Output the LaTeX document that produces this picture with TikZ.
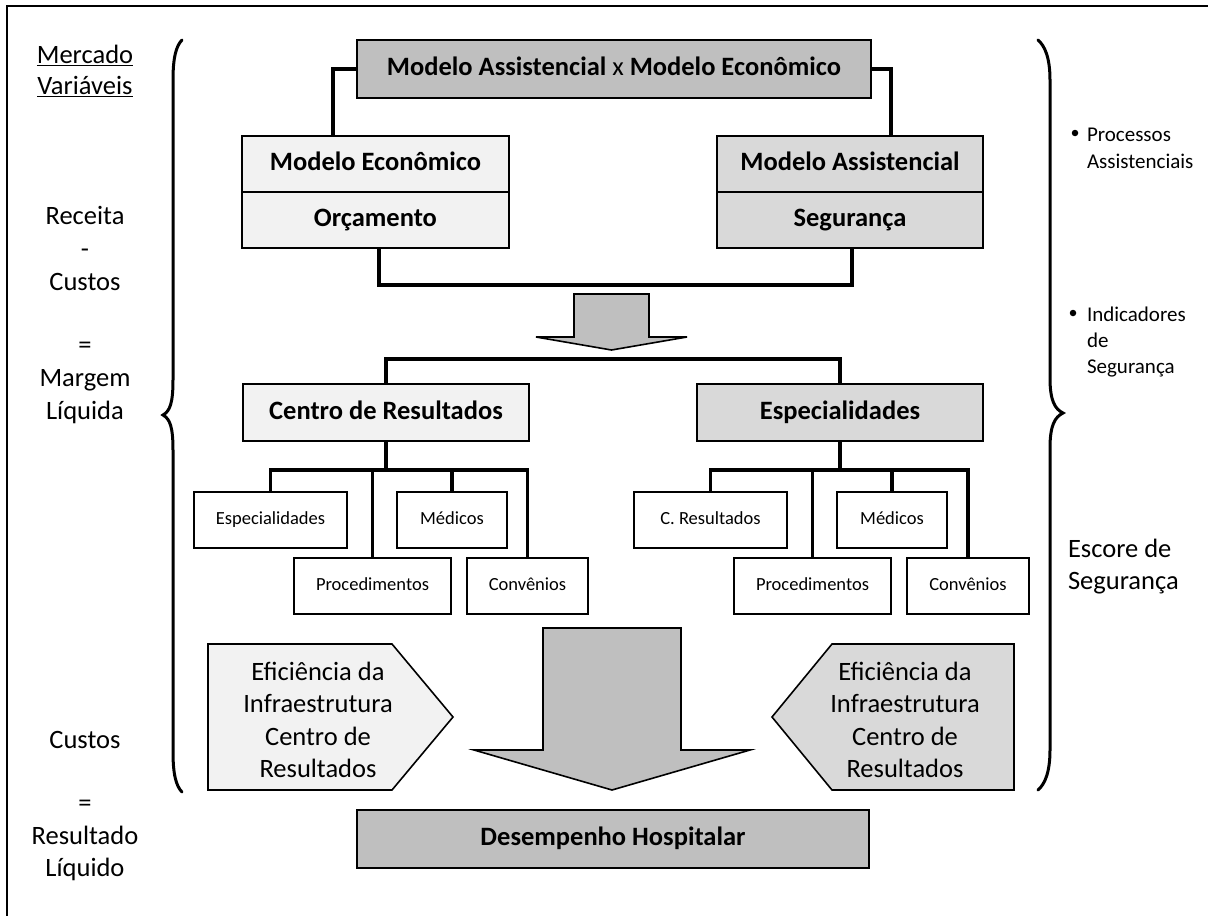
\documentclass[tikz,border=0pt]{standalone}
\usepackage{fontspec}
\setmainfont{Carlito}
\definecolor{gdark}{HTML}{BFBFBF}
\definecolor{gmid}{HTML}{D9D9D9}
\definecolor{glight}{HTML}{F2F2F2}
\begin{document}
\begin{tikzpicture}[x=1pt,y=-1pt,
  every node/.style={inner sep=0pt, outer sep=0pt},
  big/.style={font=\fontsize{26.5}{32.4}\selectfont},
  small/.style={font=\fontsize{18.5}{24}\selectfont},
  side/.style={font=\fontsize{21}{26.5}\selectfont},
  box/.style={draw=black, line width=1.8pt, text height=17pt, text depth=4pt},
  leaf/.style={box, small, minimum height=56pt, text height=12pt, text depth=3pt},
  conn/.style={line width=3.5pt},
  brace/.style={line width=3pt, line cap=round},
  blockarrow/.style={draw=black, line width=1.6pt, fill=gdark, line join=miter},
  pent/.style={draw=black, line width=1.6pt},
  lab/.style={big, anchor=base},
  slab/.style={side, anchor=base west},
  dot/.style={circle, fill=black, minimum size=6.5pt}
]
\useasboundingbox (0,0) rectangle (1208,916);

% outer frame (left and top edges)
\draw[line width=2pt] (7,916) -- (7,6) -- (1208,6);

% ---- models ----
\node[box, big, fill=gdark, minimum width=514pt, minimum height=58pt] (top) at (614,69)
  {\textbf{Modelo Assistencial} x \textbf{Modelo Econômico}};
\node[box, big, fill=glight, minimum width=267pt, minimum height=56pt] (me1) at (375.5,164) {\textbf{Modelo Econômico}};
\node[box, big, fill=glight, minimum width=267pt, minimum height=56pt] (me2) at (375.5,220) {\textbf{Orçamento}};
\node[box, big, fill=gmid, minimum width=266pt, minimum height=56pt] (ma1) at (850,164) {\textbf{Modelo Assistencial}};
\node[box, big, fill=gmid, minimum width=266pt, minimum height=56pt] (ma2) at (850,220) {\textbf{Segurança}};

\draw[conn] (top.west) -| ([xshift=-42.5pt]me1.north);
\draw[conn] (top.east) -| ([xshift=41pt]ma1.north);
\draw[conn] ([xshift=3.5pt]me2.south) -- ++(0,37) -| ([xshift=2pt]ma2.south);

% small block arrow
\draw[blockarrow] (574,294) -- (649,294) -- (649,337) -- (687,337) -- (611.5,350)
  -- (536,337) -- (574,337) -- cycle;

% ---- second level ----
\node[box, big, fill=glight, minimum width=286pt, minimum height=57pt] (cr) at (386,412.5) {\textbf{Centro de Resultados}};
\node[box, big, fill=gmid, minimum width=286pt, minimum height=57pt] (es) at (840,412.5) {\textbf{Especialidades}};
\draw[conn] (cr.north) -- ++(0,-25) -| (es.north);

% children of Centro de Resultados
\node[leaf, minimum width=153pt] (ce) at (270.5,520) {Especialidades};
\node[leaf, minimum width=110pt] (cm) at (452,520) {Médicos};
\node[leaf, minimum width=157pt] (cp) at (372.5,586) {Procedimentos};
\node[leaf, minimum width=121pt] (cv) at (527.5,586) {Convênios};
\draw[conn] (cr.south) -- ++(0,29);
\draw[conn] (ce.north) -- ++(0,-22) -| (cv.north);
\draw[conn] (cm.north) -- ++(0,-22);
\draw[conn] (cp.north) -- ++(0,-88);

% children of Especialidades
\node[leaf, minimum width=153pt] (rc) at (710.5,520) {C. Resultados};
\node[leaf, minimum width=110pt] (rm) at (892,520) {Médicos};
\node[leaf, minimum width=157pt] (rp) at (812.5,586) {Procedimentos};
\node[leaf, minimum width=122pt] (rv) at (968,586) {Convênios};
\draw[conn] (es.south) -- ++(0,29);
\draw[conn] (rc.north) -- ++(0,-22) -| (rv.north);
\draw[conn] (rm.north) -- ++(0,-22);
\draw[conn] (rp.north) -- ++(0,-88);

% ---- bottom ----
\draw[blockarrow] (543,628) -- (681,628) -- (681,750) -- (750,750) -- (612,790)
  -- (474,750) -- (543,750) -- cycle;
\draw[pent, fill=glight] (208,644) -- (392,644) -- (453,717) -- (392,790) -- (208,790) -- cycle;
\node[big, align=center] (pl) at (318,720) {Eficiência da\\Infraestrutura\\Centro de\\Resultados};
\draw[pent, fill=gmid] (772,717) -- (832,644) -- (1014,644) -- (1014,790) -- (832,790) -- cycle;
\node[big, align=center] (pr) at (905,720) {Eficiência da\\Infraestrutura\\Centro de\\Resultados};

\node[box, big, fill=gdark, minimum width=512pt, minimum height=58pt] (dh) at (613,839) {\textbf{Desempenho Hospitalar}};

% ---- braces ----
\draw[brace] (182,40) .. controls (176,46) and (173,58) .. (173,80) -- (173,380)
  .. controls (173,403) and (170,411) .. (163,415)
  .. controls (170,419) and (173,427) .. (173,450) -- (173,752)
  .. controls (173,774) and (176,786) .. (182,792);
\draw[brace] (1038,40) .. controls (1045,46) and (1050,58) .. (1050,80) -- (1050,378)
  .. controls (1050,401) and (1055,409) .. (1063,413)
  .. controls (1055,417) and (1050,425) .. (1050,448) -- (1050,750)
  .. controls (1050,772) and (1045,784) .. (1038,790);

% ---- left column ----
\node[lab] (l1) at (85,63.5) {\underline{Mercado}};
\node[lab] (l2) at (85,94.5) {\underline{Variáveis}};
\node[lab] (l3) at (85,224.5) {Receita};
\node[lab] (l4) at (85,257.5) {-};
\node[lab] (l5) at (85,290.5) {Custos};
\node[lab] (l6) at (85,353.5) {=};
\node[lab] (l7) at (85,386.5) {Margem};
\node[lab] (l8) at (85,419.5) {Líquida};
\node[lab] (l9) at (85,748.5) {Custos};
\node[lab] (l10) at (85,811.5) {=};
\node[lab] (l11) at (85,844.5) {Resultado};
\node[lab] (l12) at (85,876.5) {Líquido};

% ---- right column ----
\node[dot] (b1) at (1075,133) {};
\node[slab] (r1) at (1087,141) {Processos};
\node[slab] (r2) at (1087,168) {Assistenciais};
\node[dot] (b2) at (1073,313) {};
\node[slab] (r3) at (1087,321) {Indicadores};
\node[slab] (r4) at (1087,347) {de};
\node[slab] (r5) at (1087,373) {Segurança};
\node[big, anchor=base west] (r6) at (1068,557) {Escore de};
\node[big, anchor=base west] (r7) at (1068,589) {Segurança};
\end{tikzpicture}
\end{document}
